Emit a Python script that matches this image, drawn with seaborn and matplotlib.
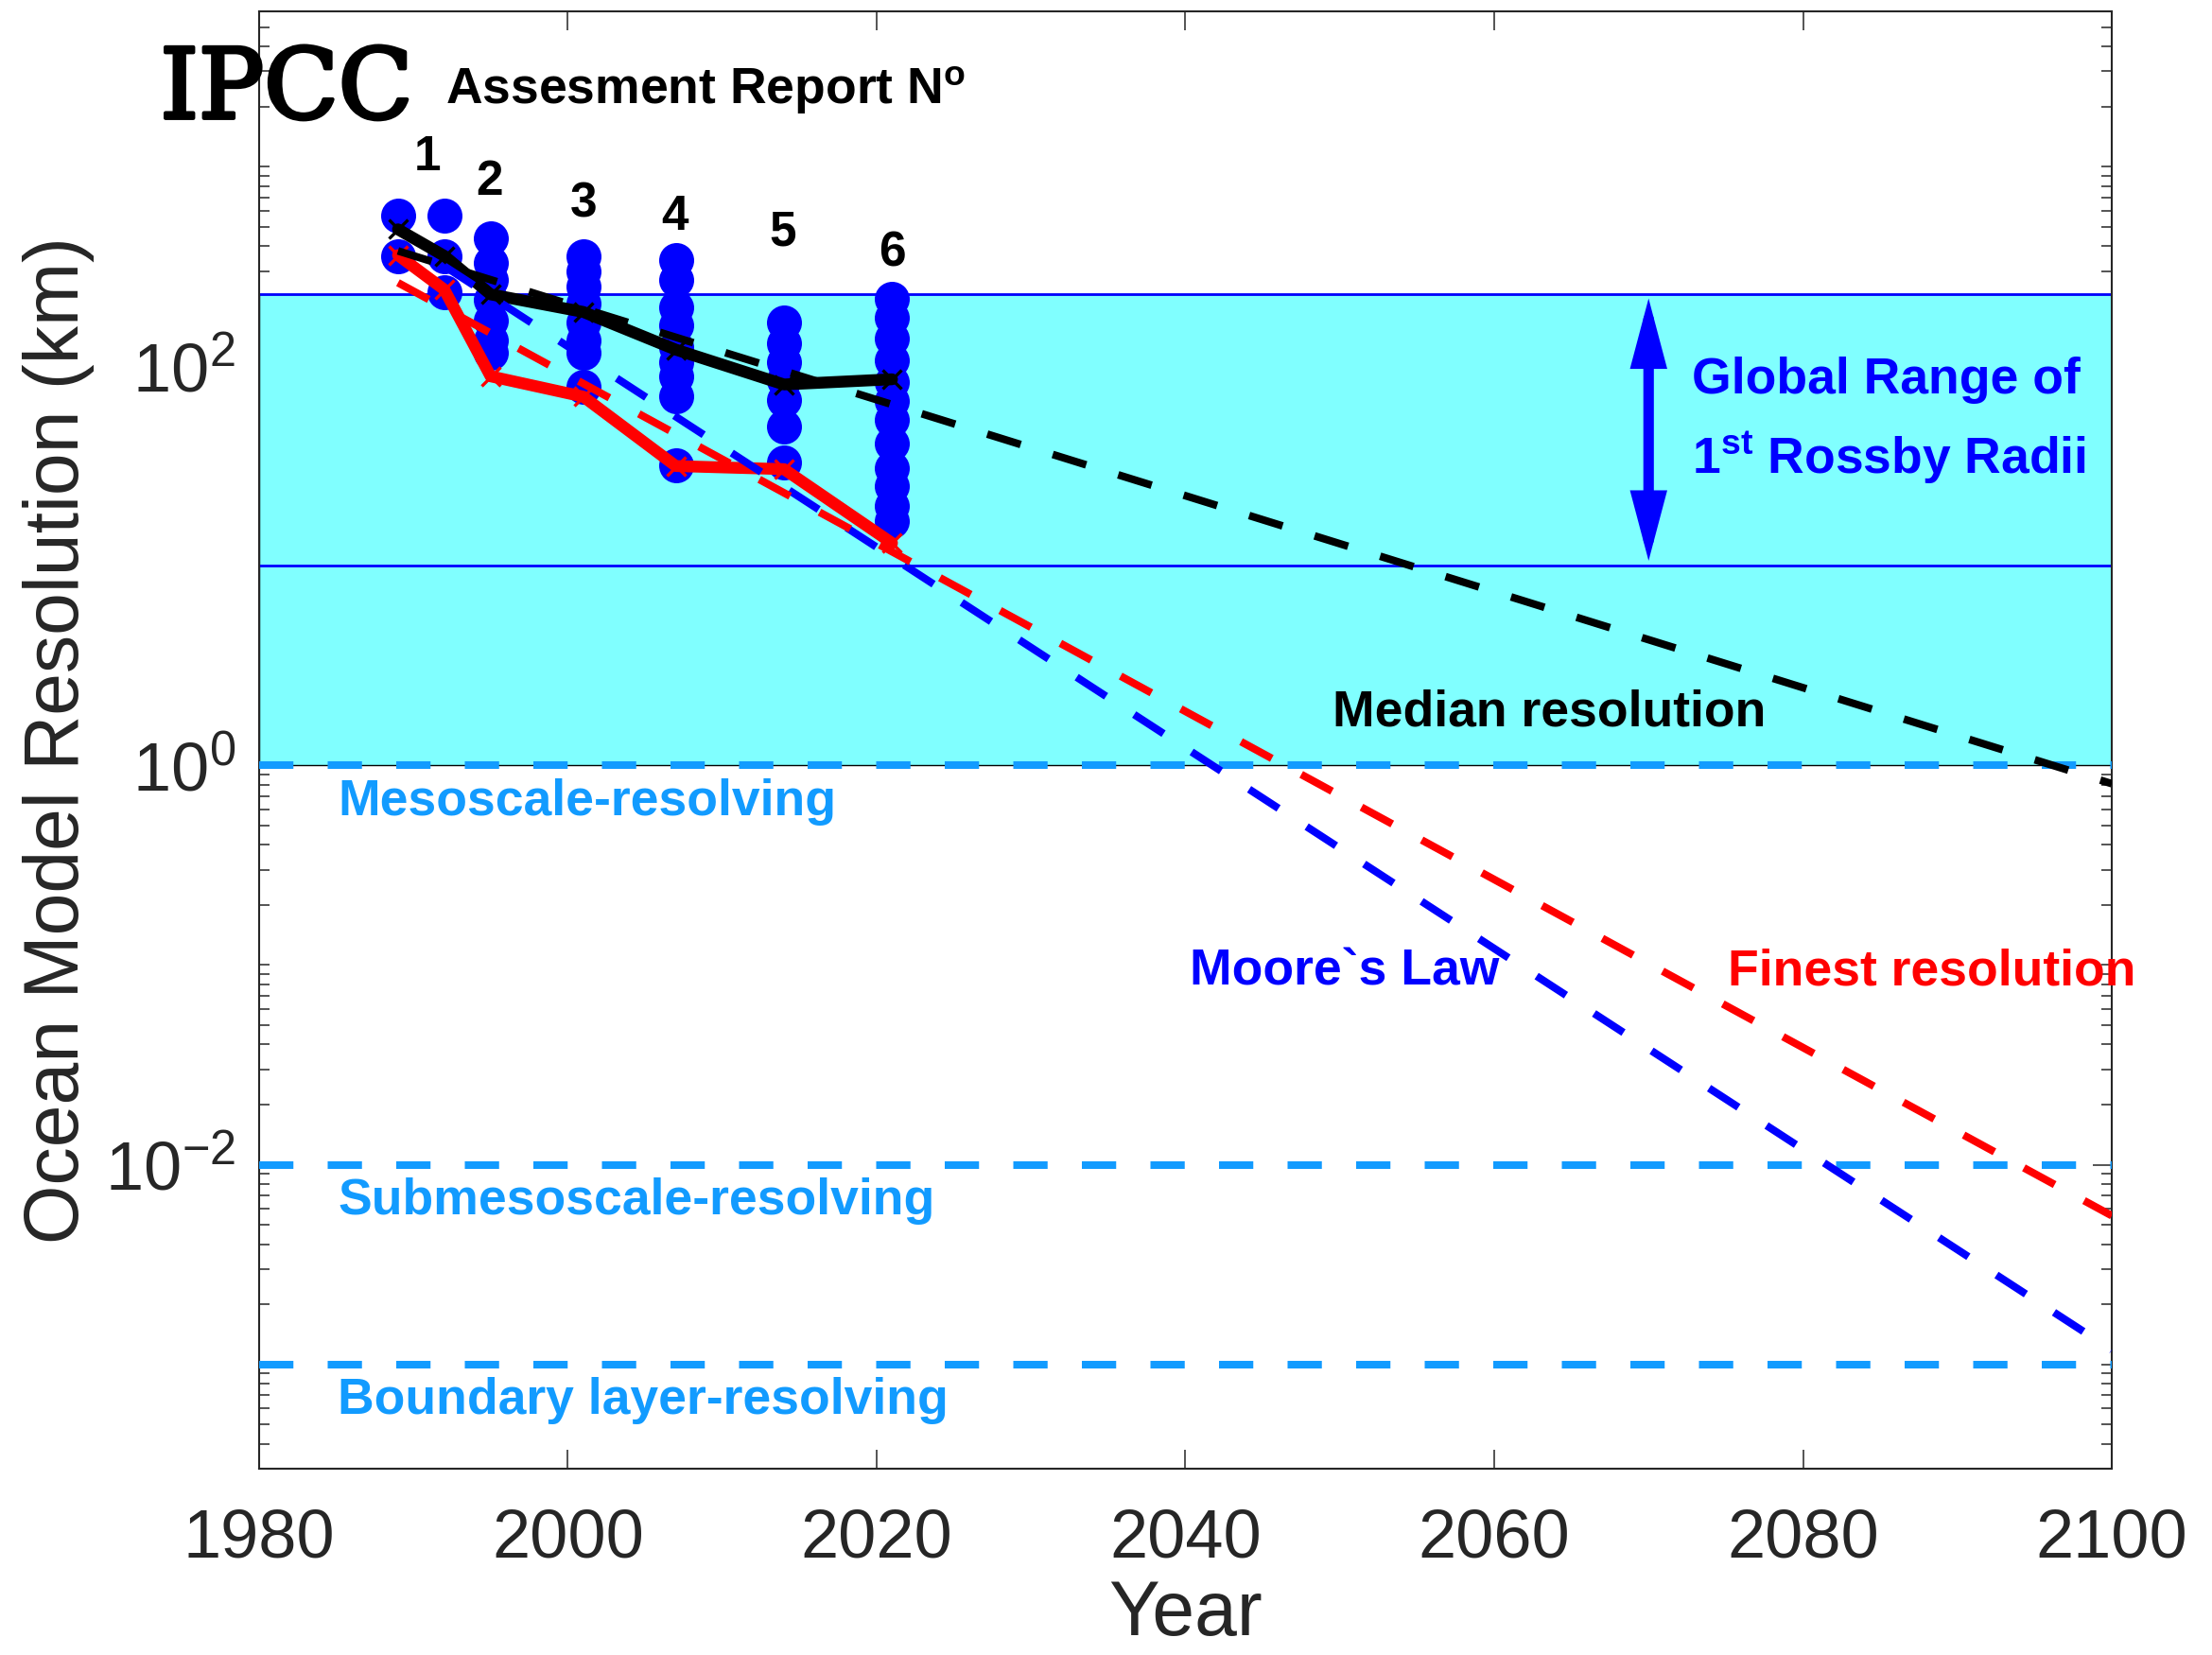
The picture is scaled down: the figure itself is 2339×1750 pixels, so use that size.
import numpy as np
import pandas as pd
import matplotlib
matplotlib.use("Agg")
import matplotlib.pyplot as plt
import matplotlib.patheffects as pe
from matplotlib.ticker import FixedLocator, FuncFormatter, NullFormatter
import seaborn as sns

# Ocean-model horizontal resolution (km) of the models in each IPCC report
col_years = [1989, 1992, 1995, 2001, 2007, 2014, 2021]
res_1989 = [565, 357]
res_1992 = [565, 357, 236]
res_1995 = [436, 330, 270, 215, 170, 135, 117]
res_2001 = [357, 300, 250, 205, 165, 135, 117, 79]
res_2007 = [342, 270, 198, 160, 125, 105, 89, 70.5, 32]
res_2014 = [165, 130, 105, 85, 68, 50, 33]
res_2021 = [217, 175, 137, 107, 83, 67, 54, 41, 31, 25, 20, 16.7]

# Median and finest resolution per report year
median_km = [485, 357, 229, 187, 121, 81, 86]
finest_km = [360, 242, 89, 70.4, 31.6, 30.5, 13]

# Exponential trends (straight lines on the log axis): start / end
median_trend_years = [1989, 2100]
median_trend_km = [378, 0.81]
finest_trend_years = [1989, 2100]
finest_trend_km = [262, 0.00555]
moore_years = [1992, 2100]
moore_km = [317, 0.00118]

# Reference scales
rossby_range_km = [10, 230]
band_bottom_km = 1
scale_km = [1, 0.01, 0.001]
scale_names = ["Mesoscale-resolving", "Submesoscale-resolving",
               "Boundary layer-resolving"]

# Assessment report numbers
report_numbers = ["1", "2", "3", "4", "5", "6"]
report_label_years = [1990.9, 1994.9, 2001.0, 2006.9, 2013.9, 2021.0]
report_label_km = [964, 720, 558, 483, 403, 318]

CYAN = "#80FFFF"
LIGHT_BLUE = "#129BFF"
INK = "#262626"

sns.set_theme(style="ticks")
plt.rcParams["font.family"] = ["Liberation Sans", "DejaVu Sans"]
plt.rcParams["mathtext.fontset"] = "custom"
plt.rcParams["mathtext.rm"] = "Liberation Sans"
plt.rcParams["mathtext.it"] = "Liberation Sans:italic"
plt.rcParams["mathtext.bf"] = "Liberation Sans:bold"

columns = [res_1989, res_1992, res_1995, res_2001, res_2007, res_2014, res_2021]
dots = pd.DataFrame({
    "year": np.repeat(col_years, [len(c) for c in columns]),
    "km": np.concatenate(columns),
})

fig = plt.figure(figsize=(23.39, 17.5), dpi=100)
ax = fig.add_axes([0.1171, 0.1126, 0.8376, 0.8806])
ax.set_yscale("log")
ax.set_xlim(1980, 2100)
ax.set_ylim(3e-4, 6e3)

# Band between 1 km and the largest Rossby radius
ax.fill_between([1980, 2100], band_bottom_km, rossby_range_km[1],
                facecolor=CYAN, edgecolor="black", linewidth=1, zorder=1)
for r in rossby_range_km:
    ax.axhline(r, color="blue", lw=2, zorder=2)

# Resolved-scale thresholds
for v in scale_km:
    ax.axhline(v, color=LIGHT_BLUE, lw=5.8, dashes=(4.5, 4.5), zorder=3)

# Individual models
sns.scatterplot(data=dots, x="year", y="km", s=710, color="blue",
                linewidth=0, ax=ax, zorder=4, legend=False)

# Median and finest resolution
sns.lineplot(x=col_years, y=median_km, color="black", lw=9, marker="x",
             markersize=15, markeredgewidth=2.4, markeredgecolor="black",
             ax=ax, zorder=5)
sns.lineplot(x=col_years, y=finest_km, color="red", lw=9, marker="x",
             markersize=15, markeredgewidth=2.4, markeredgecolor="red",
             ax=ax, zorder=5)

# Trend lines
ax.plot(median_trend_years, median_trend_km, color="black", lw=5.8,
        dashes=(4.6, 4.4), zorder=6)
ax.plot(moore_years, moore_km, color="blue", lw=5.8,
        dashes=(4.6, 4.4), zorder=6)
ax.plot(finest_trend_years, finest_trend_km, color="red", lw=5.8,
        dashes=(4.6, 4.4), zorder=6)

# Double arrow spanning the Rossby-radius range
arrow_x = 2070
ax.annotate("", xy=(arrow_x, rossby_range_km[1] * 0.95),
            xytext=(arrow_x, rossby_range_km[0] * 1.06),
            arrowprops=dict(arrowstyle="<|-|>,head_length=1.7,head_width=0.45",
                            mutation_scale=20, lw=8, color="blue",
                            shrinkA=0, shrinkB=0, joinstyle="miter"),
            zorder=7)

bold = dict(fontweight="bold", fontsize=38.5)
ax.text(2072.8, 73, "Global Range of", color="blue", va="baseline", **bold)
ax.text(2072.8, 28.8, r"1$^{\mathbf{st}}$ Rossby Radii", color="blue",
        va="baseline", **bold)
ax.text(2049.5, 1.573, "Median resolution", color="black", va="baseline", **bold)
ax.text(2040.3, 0.0798, "Moore`s Law", color="blue", va="baseline", **bold)
ax.text(2075.1, 0.0798, "Finest resolution", color="red", va="baseline",
        clip_on=False, **bold)
for v, name in zip(scale_km, scale_names):
    ax.text(1985.1, v * 10 ** -0.25, name, color=LIGHT_BLUE, va="baseline",
            **bold)

for n, x, y in zip(report_numbers, report_label_years, report_label_km):
    ax.text(x, y, n, ha="center", va="baseline", color="black",
            fontweight="bold", fontsize=37)

ax.text(1992.07, 2065, r"Assesment Report N$^{\mathbf{o}}$", color="black",
        va="baseline", fontweight="bold", fontsize=38.5)
ipcc = ax.text(1973.6, 1750, "IPCC", color="black", va="baseline",
               family="DejaVu Serif", fontsize=74, clip_on=False)
ipcc.set_path_effects([pe.withStroke(linewidth=3, foreground="black")])

# Axes, ticks and labels
ax.xaxis.set_major_locator(FixedLocator(range(1980, 2101, 20)))
ax.xaxis.set_minor_locator(FixedLocator([]))
ax.yaxis.set_major_locator(FixedLocator([1e-2, 1e0, 1e2]))
minor = [m * 10.0 ** k for k in range(-4, 4) for m in range(1, 10)]
minor = [t for t in minor if 3e-4 <= t <= 6e3 and t not in (1e-2, 1e0, 1e2)]
ax.yaxis.set_minor_locator(FixedLocator(minor))
ax.yaxis.set_major_formatter(
    FuncFormatter(lambda v, p: r"$\mathdefault{10^{%d}}$" % round(np.log10(v))))
ax.yaxis.set_minor_formatter(NullFormatter())

ax.tick_params(which="both", direction="in", top=True, right=True,
               color=INK, labelcolor=INK, width=1.1)
ax.tick_params(which="major", length=14.4)
ax.tick_params(which="minor", length=8)
ax.tick_params(axis="x", which="major", labelsize=52, pad=30)
ax.tick_params(axis="y", which="major", labelsize=52, pad=18)
for s in ax.spines.values():
    s.set_color(INK)
    s.set_linewidth(1.5)

ax.set_xlabel("Year", fontsize=58, color=INK)
ax.xaxis.set_label_coords(0.5, -0.1145)
ax.xaxis.label.set_va("baseline")
ax.set_ylabel("Ocean Model Resolution (km)", fontsize=58, color=INK)
ax.yaxis.set_label_coords(-0.0975, 0.5)
ax.yaxis.label.set_va("baseline")

fig.savefig("out.png", dpi=100)
